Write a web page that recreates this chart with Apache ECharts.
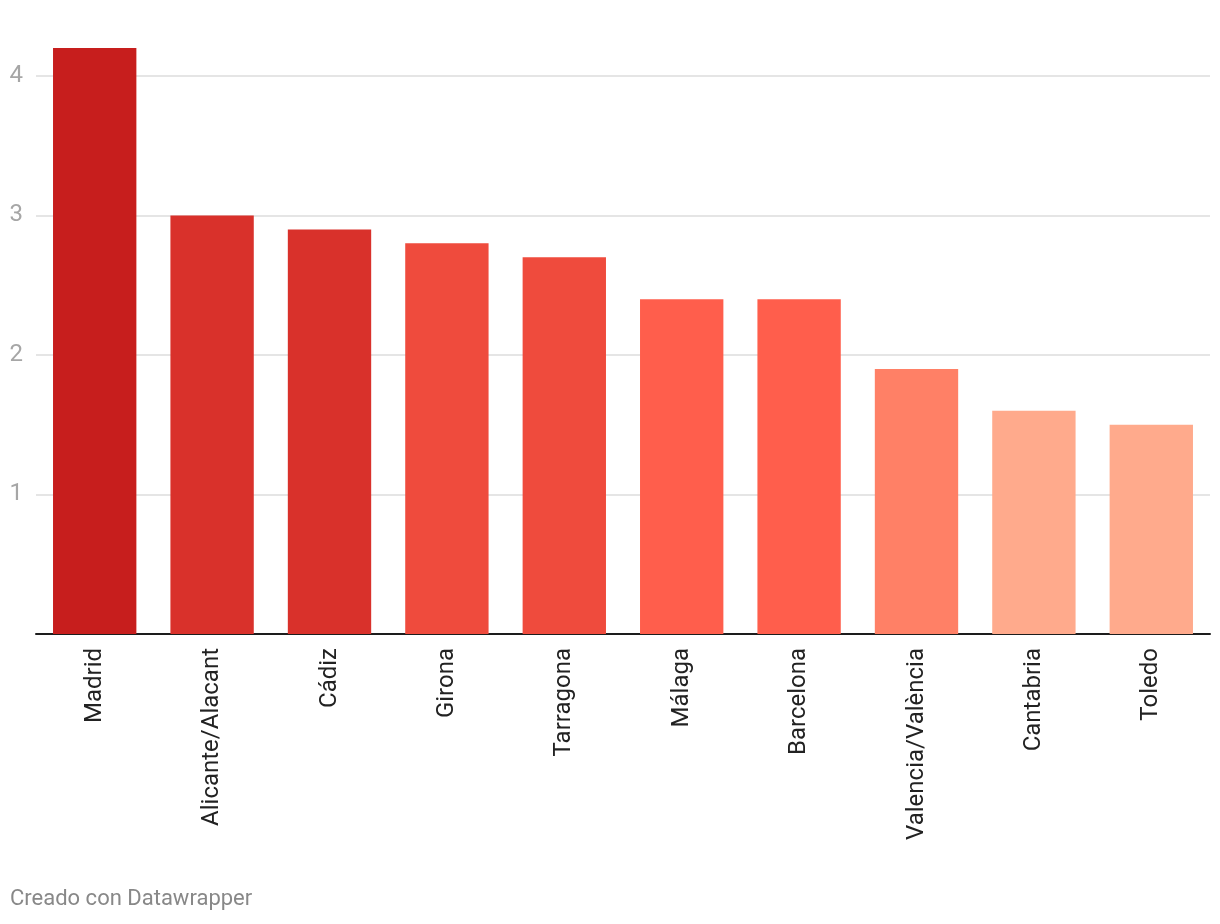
<!DOCTYPE html>
<html><head><meta charset="utf-8">
<script src="https://cdn.jsdelivr.net/npm/echarts@6/dist/echarts.min.js"></script>
<style>html,body{margin:0;padding:0;background:#fff}#c{width:1220px;height:924px}</style>
</head><body><div id="c"></div>
<script>
const categories = ['Madrid','Alicante/Alacant','Cádiz','Girona','Tarragona','Málaga','Barcelona','Valencia/València','Cantabria','Toledo'];
const values = [4.2, 3.0, 2.9, 2.8, 2.7, 2.4, 2.4, 1.9, 1.6, 1.5];
const barColors = ['#c71e1d','#d9312b','#d9312b','#ef4b3d','#ef4b3d','#ff5e4c','#ff5e4c','#ff8066','#ffaa8c','#ffaa8c'];
const yTicks = [1, 2, 3, 4];

const chart = echarts.init(document.getElementById('c'), null, {renderer:'canvas'});
chart.setOption({
  animation:false,
  grid:{left:36, right:10, top:48, bottom:290, containLabel:false},
  xAxis:{type:'category', data:categories,
    axisLine:{lineStyle:{color:'#1d1d1d', width:2}},
    axisTick:{show:false},
    axisLabel:{rotate:90, margin:14, fontSize:24, fontFamily:'Roboto', color:'#222'}},
  yAxis:{type:'value', min:0, max:4.2, interval:1,
    axisLine:{show:false}, axisTick:{show:false},
    splitLine:{showMinLine:false, showMaxLine:false, lineStyle:{color:'#e5e5e5', width:2}},
    axisLabel:{margin:13, fontSize:24, fontFamily:'Roboto', color:'#a6a6a6', showMinLabel:false, showMaxLabel:false,
      formatter:v => yTicks.includes(v) ? String(v) : ''}},
  series:[{type:'bar', data:values.map((v,i)=>({value:v, itemStyle:{color:barColors[i]}})), barCategoryGap:'29%'}],
  graphic:[{type:'text', left:10, top:888, style:{text:'Creado con Datawrapper', font:'22px Roboto', fill:'#888'}}]
});
</script></body></html>
